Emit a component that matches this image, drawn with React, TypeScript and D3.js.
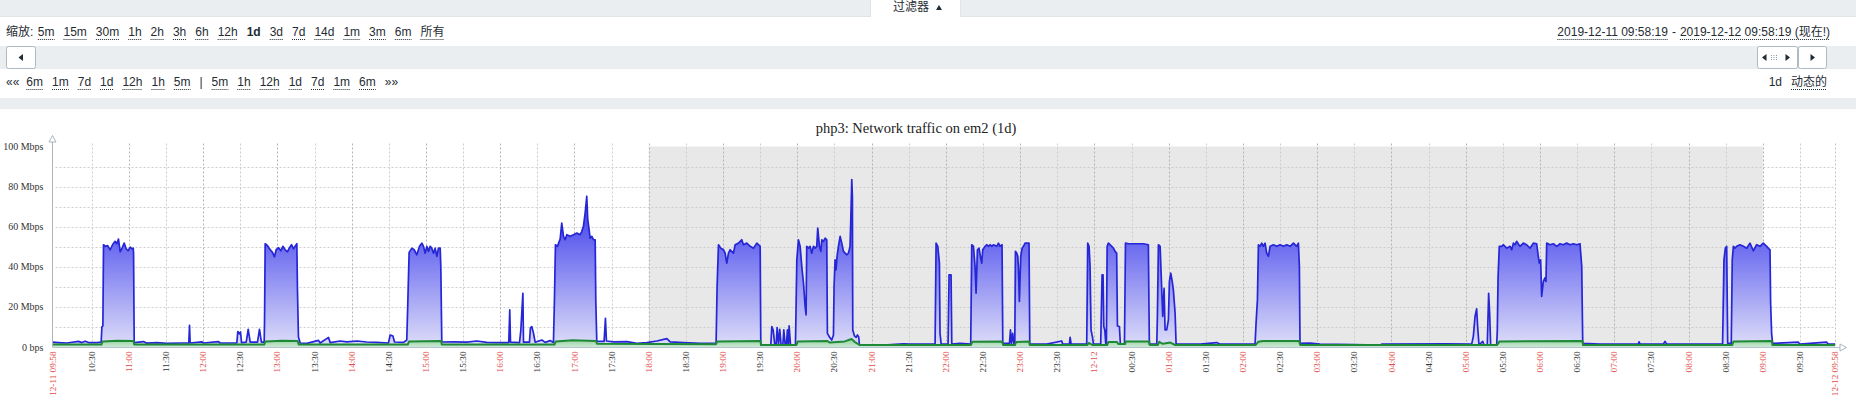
import React, { useEffect, useRef } from 'react';
import * as d3 from 'd3';

const W = 1856;
const H = 418;

// ---- data: minutes after 2019-12-11 09:58:19, value in Mbps ----
const trafficOut: [number, number][] = [
  [0,2.4],[4.9,2.2],[11.6,2.0],[21,2.8],[23.7,2.2],[26.4,2.9],[29.1,2.2],[35.8,2.2],[39.3,2.4],[39.9,10],[40.7,10.5],[41.2,51],[42.6,50.2],[44.4,50.6],[46.6,48.5],[48.5,51],[50.6,52.7],[52,51.5],[53.3,53.8],[54.7,47.5],[56.3,49.5],[57.9,51.8],[59.5,49],[61.1,48],[62.8,49.8],[64.1,49],[65.2,49.3],[65.5,46.8],[66,2.2],
  [73.5,2.7],[76.2,1.9],[84.3,2.2],[92.4,1.8],[103.1,2.0],[110.1,2.0],[110.7,10.8],[111.2,2.0],[120.6,2.6],[122,2.0],[134.1,2.7],[135.4,2.0],[148.9,2.0],[149.7,7.7],[151.1,6.5],[151.9,7.5],[152.7,2.2],[156.5,2.4],[158.1,8.8],[159.7,2.4],[165.6,2.4],[167.2,8.8],[168.8,2.4],[171,2.4],
  [171.3,12.7],[171.8,51.5],[173.7,50.5],[175.9,48.5],[177.7,47.2],[179.3,45],[180.7,48.5],[182.6,49.5],[184.5,48],[186.1,50.2],[188,48.5],[189.8,47.5],[191.5,49.5],[193.1,51],[194.7,49],[196.3,50.5],[197.4,51.5],[197.9,28.5],[198.7,5],[200.1,2],
  [205.5,1.8],[214.9,3.3],[216.2,2],[223,4.8],[224.3,2.2],[232.4,3],[237.8,2.6],[245.9,3],[253.9,2.5],[262,2.3],[271.4,2],[272.8,6],[275,5.5],[276.3,2.5],[283.6,2.3],[286.2,3.5],
  [287.1,23.5],[288.1,47.2],[290.3,49.3],[292.2,48.5],[294.3,46],[296.5,50.2],[298.4,51.8],[299.7,50.2],[301.1,46.8],[302.4,50.2],[303.7,47.7],[305.1,50.2],[306.4,49.3],[307.8,46.8],[309.1,49.3],[310.5,45.2],[311.8,49.3],[313.2,49.3],[313.7,40.2],[314.5,2.5],
  [323.9,2.6],[334.7,2.4],[342.8,3],[350.9,2.3],[361.6,2.2],[368.6,2.2],[369.4,18.5],[370,2.4],[377.3,2.2],[378.3,8],[379.1,16.8],[380,26.8],[380.5,2.4],[385.3,2.4],[386.1,9.5],[387.2,10.2],[388.6,6.8],[389.9,2.4],[395.3,3.5],[398,2.3],[402,3.2],[404.7,2.3],
  [405.5,23.5],[406.3,51],[407.9,50.2],[410.1,53.8],[411.4,61.8],[412.8,55.2],[414.1,53.5],[415.5,56],[418.2,55.2],[420.9,56],[423.6,56.8],[426.3,56],[427.6,57.7],[428.9,60.2],[430.3,66.8],[431.6,75.2],[432.4,63.5],[433.5,58.5],[434.3,54.3],[435.7,55.2],[437,53.5],[438.4,53.5],[438.9,23.5],[439.7,2.8],
  [445.6,2.8],[446.7,14.3],[447.5,3],[453.2,2.6],[464,2.7],[472,1.8],[480.1,2.2],[488.2,3],[496.3,4.2],[499,2.6],[509.7,2.2],[523.2,1.8],[536.1,2],
  [536.9,30.2],[538,51],[539.9,49.3],[542,48.5],[543.4,46.8],[544.7,41.8],[546.1,46.8],[547.4,48.5],[550.1,46.8],[551.5,51],[554.2,51.8],[556.8,53.5],[558.2,51],[560.9,51.8],[563.6,50.2],[566.3,49.3],[569,51.8],[571.7,50.2],[572.2,1],
  [580.3,1],[581.1,10.2],[582.2,8.5],[583.5,1],[584.6,1],[585.4,9.7],[586.5,1],[587.5,8.8],[588.6,1],[590,1],[590.8,8.5],[591.9,1],[592.9,1],[593.7,8.5],[594.5,1],[595.1,10.5],[596.2,1],[600.2,1],
  [601.3,43.5],[602.6,53.5],[604,50.2],[605.3,40.2],[606.7,31.8],[608,20.2],[608.8,16],[609.3,50.2],[610.7,49.3],[612,50.2],[613.4,46.8],[614.7,50.2],[616.1,49.3],[617.4,50.2],[618.2,59.3],[619.6,50.2],[620.7,47.7],[621.5,53.5],[622.8,52.7],[624.2,54.3],[625.5,53.5],[626,6.8],[627.7,5],[629.5,3.5],[630.9,6],
  [631.4,30.2],[632.2,43.5],[633,38.5],[633.8,45.2],[634.9,50.2],[636.3,55.2],[637.6,51.8],[639,47.7],[640.3,46.8],[641.7,46],[643,46.8],[644.3,50.2],[644.9,63.5],[645.7,83.5],[646.2,75.2],[646.5,8.5],[647.9,5.5],[649.2,4.8],[650.3,6],[651.3,5],[651.9,1],
  [671.3,1],[687.4,1.6],[692.8,1.4],[706.3,1.4],[713,1.4],[713.8,51.8],[715.2,50.2],[716.5,41.8],[717,6.8],[717.9,1.4],[723.5,1.4],[724.3,36],[725.9,36],[726.5,1.4],[733.2,1.8],[741.8,1.5],
  [742.6,51],[744,50.2],[745.3,40.2],[746.1,26.8],[747.2,48.5],[748.5,49.3],[749.4,46],[750.7,41.8],[751.5,48.5],[753.4,50.2],[754.7,51],[756.1,50.2],[757.4,51],[758.8,50.2],[760.1,51],[762.8,50.2],[764.2,51.8],[765.5,50.2],[767.1,51],[767.7,1.8],
  [773.1,1.8],[773.9,8.5],[774.7,1.8],[775.7,6.8],[776.6,1.8],[777.4,1.8],[777.9,47.7],[779,46.8],[779.8,45.2],[780.3,40.2],[781.1,22.7],[782.2,45.2],[783.3,49.3],[784.4,50.2],[785.7,51.8],[787.6,51.8],[788.9,51.8],[789.5,1.4],
  [803.2,1.4],[815.3,3],[816.1,1.4],[821.5,1.4],[822.1,4.8],[822.9,1.4],[835.5,1.4],[836.3,51.8],[837.4,50.2],[838.2,40.2],[839,8.5],[840.1,5.2],[840.9,1.4],[846.8,1.4],[847.9,36],[848.7,36],[849.3,10.2],[850.1,8.5],[850.9,1.4],[851.4,1.4],
  [852,50.2],[853,51.8],[854.4,51],[855.7,50.2],[857.1,49.3],[858.4,47.7],[859.7,46.8],[860.3,10.5],[861.9,10.2],[862.7,1.4],[866,1.4],[866.8,51.8],[869.2,51.5],[873.2,51.5],[877.3,51.5],[881.3,51.5],[885.3,51],[886.1,1.4],
  [892.1,1.4],[892.6,15.2],[893.4,51],[894.8,50.2],[895.6,36.8],[896.9,15.2],[898,29.2],[898.8,8.5],[900.1,8.5],[901.5,13.5],[902.3,32.7],[903.4,36.8],[904.5,33],[905.5,28.5],[906.9,16.8],[907.7,1.4],
  [927.1,1.4],[940.5,2.2],[943.2,1.4],[971.5,1.4],[972.3,11.8],[973.4,23.5],[974.2,51],[975.5,50.2],[976.9,51.8],[978.2,50.2],[979.6,51.8],[980.9,46.8],[982.3,45.2],[983.6,50.2],[986.3,51],[989,50.2],[991.7,51],[994.4,50.2],[997.1,51],[999.8,50.2],[1002.5,51.8],[1005.1,50.2],[1006.5,51.8],[1007.3,40.2],[1007.8,1.8],
  [1015.9,2],[1024,1.4],[1050.9,1.2],[1072.5,1],[1073.8,1.4],[1125,1.6],[1146.5,1.4],[1147.8,5.2],[1149.2,15.2],[1150.5,19],[1151.3,10.2],[1152.4,1],[1155.4,2.8],[1156.5,1],[1159.1,1],[1160.2,26.8],[1161,16.8],[1161.8,1],[1166.7,1],
  [1167.2,8.5],[1167.8,34.7],[1168.8,50.2],[1170.7,50.2],[1172.1,51],[1174.8,49.3],[1177.5,50.2],[1178.8,48.5],[1180.2,51.8],[1181.5,51],[1182.8,52.7],[1185.5,50.2],[1188.2,51.8],[1190.9,51],[1193.6,49.3],[1196.3,51.8],[1199,51.5],[1200.3,45.2],[1201.1,41.8],[1202.2,43.5],[1203,25.2],[1204.4,32.7],[1205.7,34.5],[1206.5,32.7],
  [1207.1,51.8],[1209.8,51],[1212.5,51.5],[1215.2,50.2],[1217.9,51.5],[1220.5,51],[1223.2,51.8],[1225.9,51],[1228.6,51.5],[1231.3,51],[1234,51.5],[1235.4,40.2],[1236.2,1.8],
  [1250.2,1.4],[1281.1,1.4],[1281.7,2.6],[1282.5,1.4],[1301.3,1.4],[1302.7,2.8],[1304,1.4],[1349.2,1.4],[1350.3,43.5],[1351.4,49.3],[1352.5,50.2],[1353.3,1.8],[1356.2,1.8],
  [1357,43.5],[1357.9,50.2],[1359.2,49.3],[1360.6,50.2],[1363.2,51],[1366,50.2],[1368.6,49.3],[1371.3,51.8],[1374,48],[1376.7,51],[1379.4,50.2],[1382.1,51.8],[1384.8,50.2],[1386.1,49.3],[1387.5,48.5],[1388,21.8],[1388.8,6.8],[1389.6,1.8],
  [1410.4,2.4],[1411.7,1.4],[1433.3,2.4],[1434.6,1.4],[1440,1.4],
];

const trafficIn: [number, number][] = [
  [0,1.2],[39.5,1.2],[40.5,2.8],[52,3.1],[65.5,3.0],[66,1.2],[171,1.2],[172,2.8],[185,3.1],[198,3.0],[199,1.2],
  [287,1.2],[288,2.8],[314,3.0],[314.5,1.2],[405.5,1.2],[406.5,2.8],[420,3.4],[439,3.0],[440,1.6],[536,1.4],[537,2.8],[572,3.0],[572.5,1.0],
  [601,1.0],[602,2.8],[626,3.0],[628,2.2],[631,2.4],[640,2.8],[645.5,4.0],[648,2.6],[652,1.0],[742,1.0],[743,2.6],[767,2.8],[768,1.0],
  [777.5,1.0],[778.5,2.5],[789,2.8],[789.5,1.0],[836,1.0],[837,2.0],[840,1.0],[852,1.0],[853,2.5],[860,2.5],[861,1.5],[866.5,1.5],[867,2.8],[886,2.8],[886.5,1.0],
  [893,1.0],[894,2.6],[897,1.6],[903,2.2],[907,1.0],[972,1.0],[974,2.6],[978,3.0],[1007,3.0],[1008,1.0],[1167,1.0],[1169,2.8],[1236,3.0],[1236.5,1.0],
  [1357,1.0],[1358,2.8],[1389,3.0],[1389.5,1.0],[1440,1.0],
];

const yTickValues = [0, 20, 40, 60, 80, 100];
const yTickLabels = ['0 bps', '20 Mbps', '40 Mbps', '60 Mbps', '80 Mbps', '100 Mbps'];
const yMinorValues = [10, 20, 30, 40, 50, 60, 70, 80, 90];
const chartTitle = 'php3: Network traffic on em2 (1d)';
const startLabel = '12-11 09:58';
const endLabel = '12-12 09:58';

const zoomLabel = '缩放:';
const zoomLinks = ['5m', '15m', '30m', '1h', '2h', '3h', '6h', '12h', '1d', '3d', '7d', '14d', '1m', '3m', '6m', '所有'];
const navLinks = ['««', '6m', '1m', '7d', '1d', '12h', '1h', '5m', '|', '5m', '1h', '12h', '1d', '7d', '1m', '6m', '»»'];
const rangeFrom = '2019-12-11 09:58:19';
const rangeTo = '2019-12-12 09:58:19 (现在!)';

const START = new Date(2019, 11, 11, 9, 58, 19);
const END = new Date(2019, 11, 12, 9, 58, 19);
const WORK_END = new Date(2019, 11, 11, 18, 0, 0);
const WORK_START = new Date(2019, 11, 12, 9, 0, 0);

const PL = 52.5, PR = 1835, PT = 146.5, PB = 347;
const UI_FONT = '"Liberation Sans", Arial, "Noto Sans CJK SC", sans-serif';
const SERIF = '"Liberation Serif", "DejaVu Serif", serif';
const TXT = '#1f2c33';
const RED = '#e24a4a';

export default function App() {
  const headerRef = useRef<SVGGElement>(null);

  const x = d3.scaleTime().domain([START, END]).range([PL, PR]);
  const y = d3.scaleLinear().domain([0, 100]).range([PB, PT]);
  const toDate = (m: number) => new Date(START.getTime() + m * 60000);

  const area = d3.area<[number, number]>().x(d => x(toDate(d[0]))).y0(y(0)).y1(d => y(d[1]));
  const line = d3.line<[number, number]>().x(d => x(toDate(d[0]))).y(d => y(d[1]));

  const ticks = d3.timeMinute.every(30)!.range(START, END)
    .filter(t => (t.getTime() - START.getTime()) > 20 * 60000);
  const fmt = (t: Date) => (t.getHours() === 0 && t.getMinutes() === 0) ? '12-12' : d3.timeFormat('%H:%M')(t);

  useEffect(() => {
    const g = d3.select(headerRef.current);
    g.selectAll('*').remove();
    const put = (txt: string, xx: number, yy: number, opts: { bold?: boolean; ul?: boolean; anchor?: string } = {}) => {
      const t = g.append('text').attr('x', xx).attr('y', yy).attr('font-family', UI_FONT)
        .attr('font-size', 12).attr('fill', TXT).attr('font-weight', opts.bold ? 'bold' : 'normal')
        .attr('text-anchor', opts.anchor || 'start').style('white-space', 'pre').text(txt);
      const w = (t.node() as SVGTextElement).getComputedTextLength();
      const x0 = opts.anchor === 'end' ? xx - w : xx;
      if (opts.ul) {
        g.append('line').attr('x1', x0).attr('x2', x0 + w).attr('y1', yy + 3.5).attr('y2', yy + 3.5)
          .attr('stroke', TXT).attr('stroke-width', 1).attr('stroke-dasharray', '1,1');
      }
      return w;
    };
    // row 1
    let cx = 6;
    cx += put(zoomLabel, cx, 36) + 4.5;
    zoomLinks.forEach(s => { cx += put(s, cx, 36, { bold: s === '1d', ul: s !== '1d' }) + 9; });
    // row 3
    cx = 6;
    navLinks.forEach((s, i) => {
      const plain = s === '|' || i === 0 || i === navLinks.length - 1;
      cx += put(s, cx, 86, { ul: !plain }) + (i === 0 ? 7 : 9);
    });
    // right side
    let rx = 1830;
    rx -= put(rangeTo, rx, 36, { anchor: 'end', ul: true });
    rx -= put('-', rx - 4, 36, { anchor: 'end' }) + 8;
    put(rangeFrom, rx, 36, { anchor: 'end', ul: true });
    rx = 1827;
    rx -= put('动态的', rx, 86, { anchor: 'end', ul: true }) + 9;
    put('1d', rx, 86, { anchor: 'end' });
  }, []);

  const hourLines = ticks.filter(t => t.getMinutes() === 0);
  const halfLines = ticks.filter(t => t.getMinutes() !== 0);

  return (
    <svg width={W} height={H} style={{ position: 'absolute', left: 0, top: 0, display: 'block', background: '#fff' }}>
      <defs>
        <linearGradient id="gOut" gradientUnits="userSpaceOnUse" x1="0" x2="0" y1={y(62)} y2={y(0)}>
          <stop offset="0" stopColor="#5252ee" />
          <stop offset="1" stopColor="#dedef9" />
        </linearGradient>
        <linearGradient id="gIn" gradientUnits="userSpaceOnUse" x1="0" x2="0" y1={y(4)} y2={y(0)}>
          <stop offset="0" stopColor="#8fcf9c" />
          <stop offset="1" stopColor="#cde8d3" />
        </linearGradient>
      </defs>

      {/* header UI */}
      <rect x={0} y={0} width={W} height={16} fill="#ebeef0" />
      <line x1={0} x2={W} y1={16.5} y2={16.5} stroke="#dfe4e7" />
      <rect x={870} y={0} width={91} height={18} fill="#fff" />
      <line x1={870.5} x2={870.5} y1={0} y2={17} stroke="#dfe4e7" />
      <line x1={960.5} x2={960.5} y1={0} y2={17} stroke="#dfe4e7" />
      <text x={893} y={11} fontFamily={UI_FONT} fontSize={12} fill={TXT}>过滤器</text>
      <path d="M936,10 L942,10 L939,5 Z" fill={TXT} />
      <rect x={0} y={46} width={W} height={23} fill="#ebeef0" />
      <rect x={6.5} y={46.5} width={29} height={22} rx={2} fill="#fff" stroke="#acbbc2" />
      <path d="M18.5,57.5 L23,54 L23,61 Z" fill={TXT} />
      <rect x={1757.5} y={46.5} width={40} height={22} rx={2} fill="#fff" stroke="#acbbc2" />
      <path d="M1762,57.5 L1766.5,54 L1766.5,61 Z" fill={TXT} />
      {[0, 1, 2].map(i => [0, 1, 2].map(j => (
        <rect key={`d${i}${j}`} x={1771 + i * 2.5} y={55 + j * 2} width={1} height={1} fill="#8c9aa3" />
      )))}
      <path d="M1785.5,54 L1790,57.5 L1785.5,61 Z" fill={TXT} />
      <rect x={1798.5} y={46.5} width={28} height={22} rx={2} fill="#fff" stroke="#acbbc2" />
      <path d="M1810.5,54 L1815,57.5 L1810.5,61 Z" fill={TXT} />
      <rect x={0} y={98} width={W} height={11} fill="#ebeef0" />
      <g ref={headerRef} />

      {/* chart */}
      <text x={916} y={133} textAnchor="middle" fontFamily={SERIF} fontSize={14.5} fill="#222">{chartTitle}</text>
      <rect x={x(WORK_END)} y={PT} width={x(WORK_START) - x(WORK_END)} height={PB - PT} fill="#e8e8e8" />
      {yMinorValues.map(v => (
        <line key={`h${v}`} x1={PL + 3} x2={PR} y1={Math.round(y(v)) + 0.5} y2={Math.round(y(v)) + 0.5}
          stroke="#cfcfcf" strokeDasharray="2,2" />
      ))}
      {halfLines.map(t => (
        <line key={`v${t.getTime()}`} x1={Math.round(x(t)) + 0.5} x2={Math.round(x(t)) + 0.5} y1={PT - 3} y2={PB}
          stroke="#cccccc" strokeDasharray="2,2" />
      ))}
      {hourLines.map(t => (
        <line key={`V${t.getTime()}`} x1={Math.round(x(t)) + 0.5} x2={Math.round(x(t)) + 0.5} y1={PT - 3} y2={PB}
          stroke="#b4b4b4" strokeDasharray="2,2" />
      ))}
      <line x1={Math.round(x(END)) + 0.5} x2={Math.round(x(END)) + 0.5} y1={PT - 3} y2={PB}
        stroke="#c4c4c4" strokeDasharray="2,2" />

      <path d={area(trafficOut) || ''} fill="url(#gOut)" />
      <path d={area(trafficIn) || ''} fill="url(#gIn)" />
      <path d={line(trafficOut) || ''} fill="none" stroke="#2626d6" strokeWidth={1.7} strokeLinejoin="round" />
      <path d={line(trafficIn) || ''} fill="none" stroke="#1f8a35" strokeWidth={2} strokeLinejoin="round" />

      {/* axes */}
      <line x1={PL} x2={PL} y1={PB} y2={140} stroke="#a9b4bd" />
      <path d={`M${PL - 3.5},${142} L${PL + 3.5},${142} L${PL},${135.5} Z`} fill="#fff" stroke="#a9b4bd" />
      <line x1={PL} x2={1841} y1={PB + 0.5} y2={PB + 0.5} stroke="#b3c2d0" />
      <path d={`M${1840},${PB - 3} L${1840},${PB + 4} L${1846.5},${PB + 0.5} Z`} fill="#fff" stroke="#a9b4bd" />

      {yTickValues.map((v, i) => (
        <text key={`yl${v}`} x={43.5} y={y(v) + 3.5} textAnchor="end" fontFamily={SERIF} fontSize={10} fill="#333">
          {yTickLabels[i]}
        </text>
      ))}

      {ticks.map(t => (
        <text key={`xl${t.getTime()}`} transform={`translate(${x(t)},351.5) rotate(-90)`} textAnchor="end" dy="0.33em"
          fontFamily={SERIF} fontSize={9.2} fill={t.getMinutes() === 0 ? RED : '#333'}>
          {fmt(t)}
        </text>
      ))}
      <text transform={`translate(${x(START)},351.5) rotate(-90)`} textAnchor="end" dy="0.33em"
        fontFamily={SERIF} fontSize={9.2} fill={RED}>{startLabel}</text>
      <text transform={`translate(${x(END)},351.5) rotate(-90)`} textAnchor="end" dy="0.33em"
        fontFamily={SERIF} fontSize={9.2} fill={RED}>{endLabel}</text>
    </svg>
  );
}
